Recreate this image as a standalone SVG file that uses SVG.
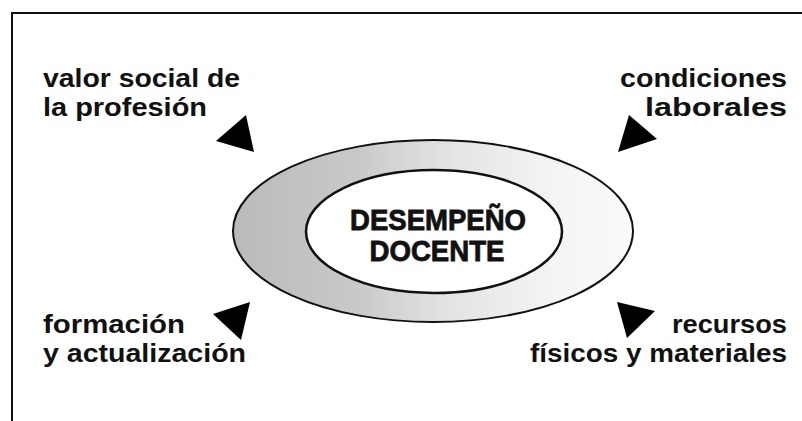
<svg xmlns="http://www.w3.org/2000/svg" width="802" height="421" viewBox="0 0 802 421">
<style>
.lbl{font-family:"Liberation Sans",Arial,sans-serif;font-weight:bold;font-size:26px;fill:#111}
.ctr{font-family:"Liberation Sans",Arial,sans-serif;font-weight:bold;font-size:29px;fill:#111;stroke:#111;stroke-width:0.8}
.arrow{fill:#000}
.frame{fill:none;stroke:#111;stroke-width:2}
</style>
<defs>
<linearGradient id="ring" x1="0" y1="0" x2="1" y2="0">
<stop offset="0" stop-color="#bababa"/>
<stop offset="0.3" stop-color="#c8c8c8"/>
<stop offset="0.55" stop-color="#e4e4e4"/>
<stop offset="0.8" stop-color="#f4f4f4"/>
<stop offset="1" stop-color="#fafafa"/>
</linearGradient>
</defs>
<rect width="802" height="421" fill="#fff"/>
<path class="frame" d="M12,421 V13 H802"/>
<g id="center">
<ellipse cx="433" cy="231" rx="200" ry="91" fill="url(#ring)" stroke="#111" stroke-width="2"/>
<ellipse cx="434" cy="231.5" rx="128" ry="61.5" fill="#fff" stroke="#111" stroke-width="2.5"/>
<text class="ctr" x="438" y="230" text-anchor="middle" textLength="176" lengthAdjust="spacingAndGlyphs">DESEMPEÑO</text>
<text class="ctr" x="437" y="261" text-anchor="middle" textLength="135" lengthAdjust="spacingAndGlyphs">DOCENTE</text>
</g>
<g id="valor">
<text class="lbl" x="43" y="87" textLength="197" lengthAdjust="spacingAndGlyphs">valor social de</text>
<text class="lbl" x="43" y="116" textLength="164" lengthAdjust="spacingAndGlyphs">la profesión</text>
</g>
<g id="condiciones">
<text class="lbl" x="787" y="87" text-anchor="end" textLength="167" lengthAdjust="spacingAndGlyphs">condiciones</text>
<text class="lbl" x="787" y="116" text-anchor="end" textLength="142" lengthAdjust="spacingAndGlyphs">laborales</text>
</g>
<g id="formacion">
<text class="lbl" x="43" y="333" textLength="142" lengthAdjust="spacingAndGlyphs">formación</text>
<text class="lbl" x="43" y="362" textLength="203" lengthAdjust="spacingAndGlyphs">y actualización</text>
</g>
<g id="recursos">
<text class="lbl" x="787" y="333" text-anchor="end" textLength="115" lengthAdjust="spacingAndGlyphs">recursos</text>
<text class="lbl" x="787" y="362" text-anchor="end" textLength="257" lengthAdjust="spacingAndGlyphs">físicos y materiales</text>
</g>
<g id="connectors">
<polygon class="arrow" points="216,141 246,115 254,152"/>
<polygon class="arrow" points="618,152 629,115 657,139"/>
<polygon class="arrow" points="213,314 250,302 241,340"/>
<polygon class="arrow" points="617,302 655,311 627,338"/>
</g>
</svg>
